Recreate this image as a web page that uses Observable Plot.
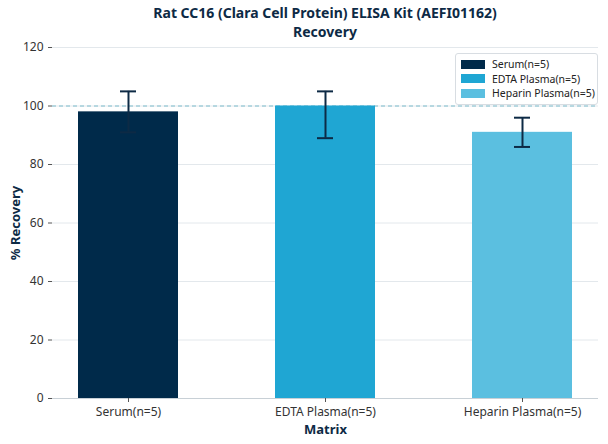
<!DOCTYPE html>
<html>
<head>
<meta charset="utf-8">
<script src="https://cdn.jsdelivr.net/npm/d3@7"></script>
<script src="https://cdn.jsdelivr.net/npm/@observablehq/plot@0.6"></script>
<style>
  body { margin: 0; background: #fff; font-family: "Noto Sans", sans-serif; }
  #wrap { position: relative; width: 608px; height: 444px; }
  #title { height: 41px; box-sizing: border-box; padding-top: 4px; padding-left: 52px; padding-right: 10px; text-align: center; font-weight: bold; font-size: 14px; color: #0d2a45; }
  #title div { height: 18.5px; line-height: 18.5px; white-space: nowrap; }
  #chart svg { overflow: visible; }
  #legend { position: absolute; left: 455px; top: 53px; width: 143px; box-sizing: border-box; border: 1px solid #d8dde2; border-radius: 3px; background: #fff; padding: 3px 5px 3px 5px; font-size: 10.5px; color: #222; }
  .row { display: flex; align-items: center; height: 14.5px; white-space: nowrap; }
  .sw { width: 24px; height: 9px; margin-right: 7px; flex: none; }
</style>
</head>
<body>
<div id="wrap">
  <div id="title"><div>Rat CC16 (Clara Cell Protein) ELISA Kit (AEFI01162)</div><div>Recovery</div></div>
  <div id="chart"></div>
  <div id="legend"></div>
</div>
<script>
const categories = ["Serum(n=5)", "EDTA Plasma(n=5)", "Heparin Plasma(n=5)"];
const recovery = [98, 100, 91];
const errLow = [91, 89, 86];
const errHigh = [105, 105, 96];
const colors = ["#002a4a", "#1fa6d3", "#5bbfe0"];
const yTicks = [0, 20, 40, 60, 80, 100, 120];

const data = categories.map((c, i) => ({ matrix: c, value: recovery[i], lo: errLow[i], hi: errHigh[i], color: colors[i] }));

const chart = Plot.plot({
  width: 608,
  height: 403,
  marginTop: 6,
  marginBottom: 46,
  marginLeft: 52,
  marginRight: 10,
  style: { fontFamily: "Noto Sans", fontSize: "12px", color: "#333", overflow: "visible" },
  x: { domain: categories, paddingInner: 0.49, paddingOuter: 0.13, label: null },
  y: { domain: [0, 120], label: null },
  marks: [
    Plot.gridY(yTicks, { stroke: "#e3e8ec", strokeOpacity: 1, strokeWidth: 1 }),
    Plot.ruleY([100], { stroke: "#7dbccc", strokeDasharray: "4,3", strokeWidth: 1 }),
    Plot.barY(data, { x: "matrix", y: "value", fill: "color" }),
    Plot.ruleX(data, { x: "matrix", y1: "lo", y2: "hi", stroke: "#0d2a45", strokeWidth: 2 }),
    Plot.tickY(data, { x: "matrix", y: "hi", stroke: "#0d2a45", strokeWidth: 2, insetLeft: 42, insetRight: 42 }),
    Plot.tickY(data, { x: "matrix", y: "lo", stroke: "#0d2a45", strokeWidth: 2, insetLeft: 42, insetRight: 42 }),
    Plot.ruleX([0], { frameAnchor: "left", stroke: "#c8d0d6" }),
    Plot.ruleY([0], { stroke: "#c8d0d6" }),
    Plot.axisY(yTicks, { tickSize: 4, stroke: "#555", fill: "#333", fontSize: 12, label: "% Recovery", labelAnchor: "center", labelArrow: "none", labelOffset: 42 }),
    Plot.axisX({ tickSize: 4, stroke: "#555", fill: "#333", fontSize: 12, label: null }),
    Plot.text(["Matrix"], { frameAnchor: "bottom", dy: 35, fontWeight: "bold", fontSize: 13, fill: "#0d2a45" })
  ]
});
document.getElementById("chart").appendChild(chart);

chart.querySelectorAll("g[aria-label='y-axis label'] text").forEach(t => {
  t.setAttribute("font-weight", "bold");
  t.setAttribute("font-size", "13");
  t.setAttribute("fill", "#0d2a45");
});

const legend = document.getElementById("legend");
categories.forEach((c, i) => {
  const row = document.createElement("div");
  row.className = "row";
  const sw = document.createElement("div");
  sw.className = "sw";
  sw.style.background = colors[i];
  const lab = document.createElement("span");
  lab.textContent = c;
  row.appendChild(sw);
  row.appendChild(lab);
  legend.appendChild(row);
});
</script>
</body>
</html>
